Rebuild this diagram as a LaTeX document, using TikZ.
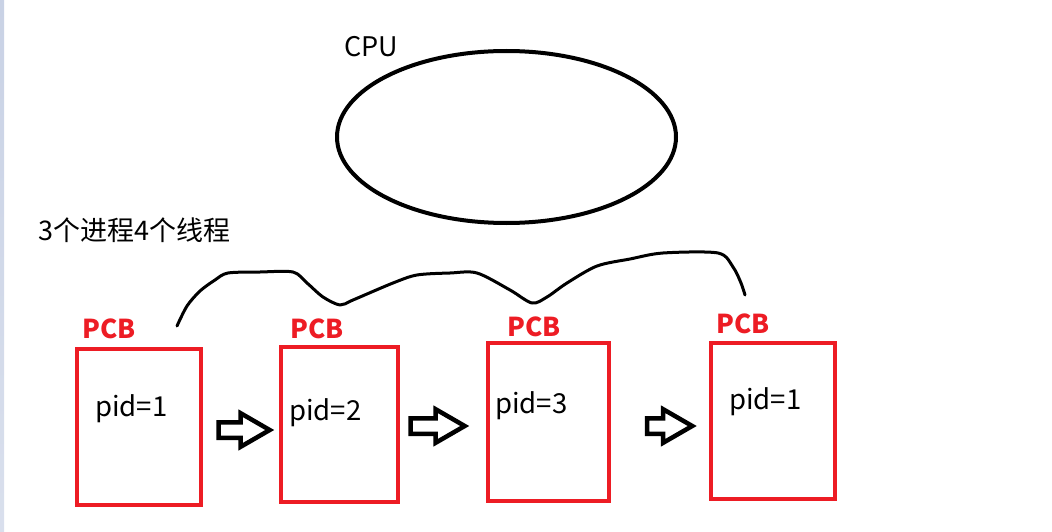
\documentclass[tikz,border=0pt]{standalone}
\usepackage{fontspec}
\newfontfamily\cjk{Noto Sans CJK SC}
\usetikzlibrary{shapes.geometric, shapes.arrows}
\definecolor{pcbred}{HTML}{ED1C24}
\definecolor{edge}{HTML}{C9D2E5}
\tikzset{
  every picture/.style={font=\cjk},
  pcbbox/.style={draw=pcbred, line width=4pt, minimum width=#1, minimum height=156pt, inner sep=0pt},
  pcbbox/.default=122pt,
  pcbtag/.style={anchor=base west, text=pcbred, inner sep=0pt, font=\cjk\bfseries\fontsize{26}{30}\selectfont},
  pidtext/.style={anchor=base west, inner sep=0pt, font=\cjk\fontsize{27.5}{30}\selectfont},
  plain/.style={anchor=base west, inner sep=0pt, font=\cjk\fontsize{27}{30}\selectfont},
  hollow/.style={single arrow, draw, line width=4.5pt, inner sep=5.5pt, single arrow head extend=9pt, single arrow tip angle=60, minimum height=#1},
}
\begin{document}
\begin{tikzpicture}[x=1pt, y=-1pt]
  \useasboundingbox (0,0) rectangle (1052,532);
  % window edge on the left
  \shade[top color=edge, bottom color=edge!70] (0,0) rectangle (4,532);

  % cpu
  \node[ellipse, draw, line width=4pt, minimum width=339pt, minimum height=172pt] (cpu) at (506.5,137) {};
  \node[plain] (cpulabel) at (344,57) {CPU};
  \node[plain] (count) at (38,240) {3个进程4个线程};

  % four pcb boxes
  \node[pcbbox=124pt] (pcb1) at (139,427) {};
  \node[pcbbox=117pt, minimum height=155pt] (pcb2) at (339.5,424.5) {};
  \node[pcbbox=121pt, minimum height=158pt] (pcb3) at (548.5,422) {};
  \node[pcbbox=124pt] (pcb4) at (773,421) {};

  \node[pcbtag] (tag1) at (82,338) {PCB};
  \node[pcbtag] (tag2) at (290,338) {PCB};
  \node[pcbtag] (tag3) at (507,336) {PCB};
  \node[pcbtag] (tag4) at (716,333) {PCB};

  \node[pidtext] (pid1) at (95,416) {pid=1};
  \node[pidtext] (pid2) at (289,420) {pid=2};
  \node[pidtext] (pid3) at (495,413) {pid=3};
  \node[pidtext] (pid4) at (729,409) {pid=1};

  % hollow arrows between boxes
  \node[hollow=51pt] (next1) at (237.5,430) {};
  \node[hollow=54pt] (next2) at (431,426) {};
  \node[hollow=45pt] (next3) at (663,426) {};

  % freehand line over the boxes
  \draw[line width=3pt, line cap=round, line join=round] plot[smooth, tension=0.5] coordinates {
    (177,326) (187,306) (200,291) (215,280) (228,273) (260,272) (293,272)
    (307,283) (323,297) (340,305) (353,300) (393,283) (417,275) (450,273) (477,273)
    (510,290) (532,303) (547,297) (567,283) (597,266) (630,259) (663,253) (718,253)
    (733,267) (741,283) (745,295)};
\end{tikzpicture}
\end{document}
